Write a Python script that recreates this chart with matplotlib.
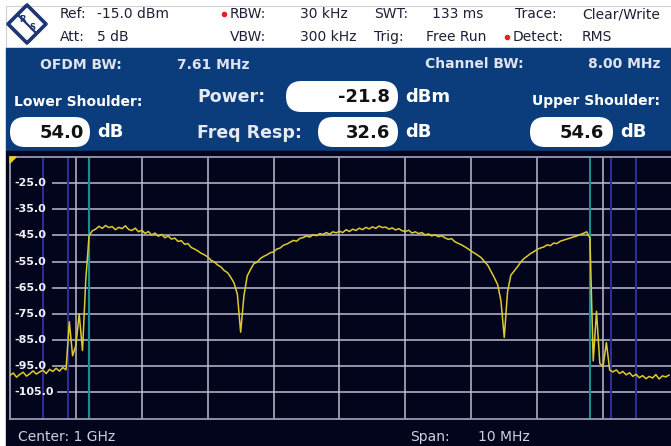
import numpy as np
import matplotlib
matplotlib.use("Agg")
import matplotlib.pyplot as plt
from matplotlib.patches import Rectangle, FancyBboxPatch, Polygon

W, H = 671, 446

# sweep grid: offset from 1 GHz centre in MHz, 201 sweep points over 10 MHz
sweep_start, sweep_stop, sweep_points = -5.0, 5.0, 201

# RMS trace in dBm, one value per sweep point
level_dbm = [
    -98.5, -97.6, -99.2, -98.1, -97.3, -98.8, -97.9, -96.8, -98.0, -97.2,
    -96.5, -97.8, -96.2, -97.0, -95.8, -96.9, -95.5, -96.4, -78.0, -91.0,
    -87.0, -75.0, -89.0, -62.0, -45.0, -43.2, -42.6, -41.5, -42.3, -41.2,
    -42.0, -41.6, -42.8, -41.9, -42.4, -41.3, -42.7, -43.1, -42.2, -43.6,
    -43.0, -44.2, -43.5, -44.8, -44.1, -45.3, -44.6, -45.9, -45.2, -46.4,
    -46.0, -47.3, -47.0, -48.4, -48.1, -49.6, -50.2, -50.9, -51.8, -52.4,
    -53.2, -54.5, -55.1, -56.3, -57.0, -58.4, -59.2, -61.0, -63.2, -67.5,
    -82.0, -68.0, -60.5, -58.0, -55.8, -55.2, -53.8, -53.0, -52.4, -51.6,
    -51.3, -50.2, -49.8, -48.7, -48.3, -47.6, -46.9, -47.2, -46.1, -45.8,
    -45.2, -45.6, -44.7, -45.1, -44.3, -44.6, -43.9, -44.5, -43.6, -44.0,
    -43.4, -43.9, -42.8, -43.5, -42.6, -43.1, -42.2, -42.8, -41.9, -42.5,
    -41.7, -42.3, -41.4, -42.0, -41.8, -42.6, -42.1, -42.9, -42.4, -43.2,
    -43.5, -43.0, -44.1, -43.6, -44.3, -43.9, -44.8, -44.4, -45.2, -44.7,
    -45.5, -45.1, -45.9, -46.5, -46.2, -47.4, -48.0, -48.6, -49.3, -50.1,
    -51.0, -51.8, -52.6, -53.5, -55.0, -56.4, -58.8, -61.2, -63.8, -70.0,
    -84.0, -66.5, -60.2, -58.6, -57.0, -55.2, -53.8, -52.9, -51.9, -51.2,
    -50.3, -49.8, -49.4, -48.6, -48.9, -47.9, -48.1, -47.2, -46.8, -46.4,
    -46.0, -45.6, -45.2, -44.7, -44.2, -43.6, -46.0, -93.0, -74.0, -94.0,
    -95.0, -86.0, -96.5, -97.2, -96.4, -97.8, -97.0, -98.3, -97.5, -98.9,
    -98.1, -99.4, -98.6, -99.8, -98.9, -99.5, -98.2, -99.9, -98.7, -99.1,
    -98.4,
]

ref_level = -15.0
bottom_level = -115.0
level_ticks = [-25.0, -35.0, -45.0, -55.0, -65.0, -75.0, -85.0, -95.0, -105.0]
freq_grid = [-4, -3, -2, -1, 0, 1, 2, 3, 4]
ofdm_bw = 7.61
channel_bw = 8.00
shoulder_edges = [4.125, 4.5]

power_dbm = -21.8
freq_resp_db = 32.6
lower_shoulder_db = 54.0
upper_shoulder_db = 54.6

freq_offset = np.linspace(sweep_start, sweep_stop, sweep_points)

# colours
panel_blue = "#0b3c7c"
screen_bg = "#03051d"
grid_col = "#bcbccf"
trace_col = "#dccb2e"
teal = "#17908f"
indigo = "#2e2e92"
header_txt = "#1e2038"

fig = plt.figure(figsize=(W / 100, H / 100), dpi=100)

# full-figure overlay in pixel units for the instrument frame
ov = fig.add_axes([0, 0, 1, 1], zorder=0)
ov.set_xlim(0, W)
ov.set_ylim(H, 0)
ov.axis("off")

ov.add_patch(Rectangle((0, 0), W, H, color="white", zorder=0))
ov.add_patch(Rectangle((6, 6), W, 42, facecolor="white", edgecolor="#cfcfd4", lw=0.8, zorder=1))
ov.add_patch(Rectangle((6, 48), W, 103, color=panel_blue, zorder=1))
ov.add_patch(Rectangle((6, 151), W, H, color=screen_bg, zorder=1))

# R&S logo
ov.add_patch(Polygon([(27, 5), (46, 24), (27, 43), (8, 24)], closed=True,
                     facecolor="white", edgecolor="#1d3673", lw=2.6, joinstyle="round", zorder=2))
ov.plot([18, 36], [15, 33], color="#1d3673", lw=1.6, zorder=3)
ov.text(22, 20, "R", fontsize=6, fontweight="bold", color="#1d3673", ha="center", va="center", zorder=3)
ov.text(32, 28, "S", fontsize=6, fontweight="bold", color="#1d3673", ha="center", va="center", zorder=3)

# header readouts
hdr = dict(fontsize=10, color=header_txt, va="center", zorder=3)
ov.text(60, 14, "Ref:", **hdr)
ov.text(97, 14, "-15.0 dBm", **hdr)
ov.text(60, 37, "Att:", **hdr)
ov.text(97, 37, "5 dB", **hdr)
ov.text(230, 14, "RBW:", **hdr)
ov.text(300, 14, "30 kHz", **hdr)
ov.text(230, 37, "VBW:", **hdr)
ov.text(300, 37, "300 kHz", **hdr)
ov.text(374, 14, "SWT:", **hdr)
ov.text(432, 14, "133 ms", **hdr)
ov.text(374, 37, "Trig:", **hdr)
ov.text(426, 37, "Free Run", **hdr)
ov.text(515, 14, "Trace:", **hdr)
ov.text(582, 14, "Clear/Write", **hdr)
ov.text(513, 37, "Detect:", **hdr)
ov.text(582, 37, "RMS", **hdr)
ov.plot([224, 507], [14, 37], "o", ls="none", color="#e02222", ms=3, zorder=3)

# measurement panel
lab = dict(fontsize=10, fontweight="bold", color="#dfe3ee", va="center", zorder=3)
ov.text(40, 65, "OFDM BW:", **lab)
ov.text(177, 65, f"{ofdm_bw:.2f} MHz", **lab)
ov.text(425, 64, "Channel BW:", **lab)
ov.text(588, 64, f"{channel_bw:.2f} MHz", **lab)
ov.text(14, 102, "Lower Shoulder:", **dict(lab, color="white"))
ov.text(532, 101, "Upper Shoulder:", **dict(lab, color="white"))
big = dict(fontsize=12.5, fontweight="bold", color="#e6e9f2", va="center", zorder=3)
ov.text(197, 97, "Power:", **big)
ov.text(197, 133, "Freq Resp:", **big)


def pill(x0, x1, y0, y1, value, unit, text_right):
    h = y1 - y0
    ov.add_patch(FancyBboxPatch((x0, y0), x1 - x0, h,
                                boxstyle=f"round,pad=0,rounding_size={h / 2}",
                                facecolor="white", edgecolor="none", zorder=2))
    ov.text(text_right, (y0 + y1) / 2 + 0.5, f"{value:.1f}", fontsize=13, fontweight="bold",
            color="#111111", ha="right", va="center", zorder=3)
    ov.text(x1 + 7, (y0 + y1) / 2, unit, fontsize=13, fontweight="bold",
            color="white", ha="left", va="center", zorder=3)


pill(286, 398, 81, 112, power_dbm, "dBm", 390)
pill(318, 398, 117, 147, freq_resp_db, "dB", 390)
pill(10, 90, 117, 147, lower_shoulder_db, "dB", 84)
pill(530, 613, 117, 147, upper_shoulder_db, "dB", 604)

# bottom status line
foot = dict(fontsize=10, color="#cdd1de", va="center", zorder=3)
ov.text(18, 437, "Center: 1 GHz", **foot)
ov.text(410, 437, "Span:", **foot)
ov.text(478, 437, "10 MHz", **foot)

# spectrum diagram
ax = fig.add_axes([10 / W, (H - 418.5) / H, 661 / W, 261.5 / H], zorder=1)
ax.set_facecolor(screen_bg)
ax.set_xlim(sweep_start, sweep_start + 10 * 661 / 659)
ax.set_ylim(bottom_level, ref_level)
ax.set_xticks([])
ax.set_yticks([])
for side in ["left", "top", "bottom"]:
    ax.spines[side].set_color("#9a9ab2")
    ax.spines[side].set_linewidth(1.3)
ax.spines["right"].set_visible(False)

for f in freq_grid:
    ax.axvline(f, color=grid_col, lw=1.3, alpha=0.85, zorder=1)
for lvl in level_ticks:
    x_start = -4.28 if lvl < -100 else -4.37
    ax.hlines(lvl, x_start, sweep_stop + 0.1, color=grid_col, lw=1.3, alpha=0.85, zorder=1)
    ax.text(-4.93, lvl, f"{lvl:.1f}", fontsize=8, fontweight="bold", color="#f2f0f8",
            ha="left", va="center", zorder=4)

for e in shoulder_edges:
    ax.axvline(-e, color=indigo, lw=1.5, zorder=2)
    ax.axvline(e, color=indigo, lw=1.5, zorder=2)
ax.axvline(-ofdm_bw / 2, color=teal, lw=1.5, zorder=2)
ax.axvline(ofdm_bw / 2, color=teal, lw=1.5, zorder=2)

ax.plot(freq_offset, level_dbm, color=trace_col, lw=1.1, zorder=3)

# reference level marker in the top-left corner of the diagram
top = fig.add_axes([0, 0, 1, 1], zorder=2)
top.set_xlim(0, W)
top.set_ylim(H, 0)
top.axis("off")
top.add_patch(Polygon([(10, 157), (16, 157), (10, 163)], closed=True, color="#e8d020"))

fig.savefig("out.png", dpi=100)
